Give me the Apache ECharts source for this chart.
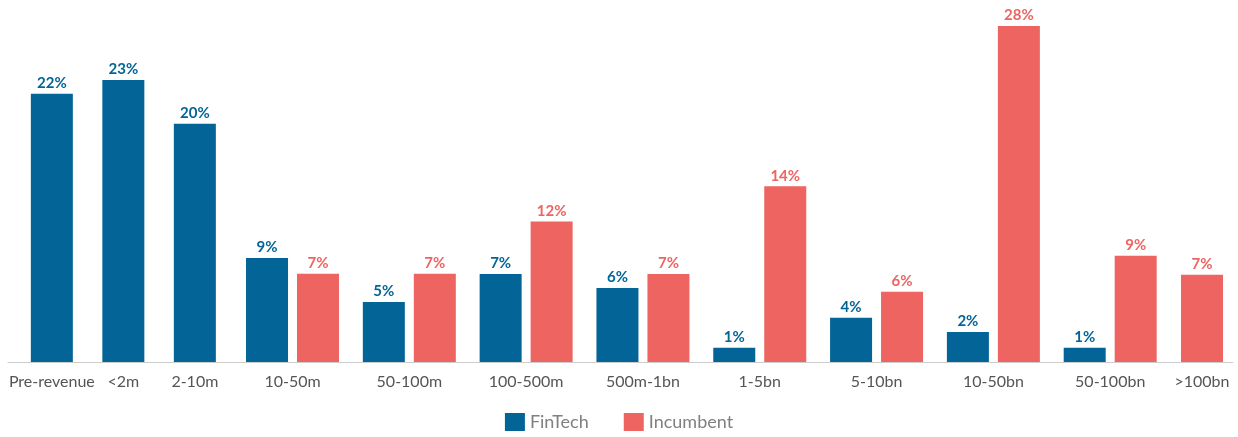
<!DOCTYPE html>
<html>
<head>
<meta charset="utf-8">
<script src="https://cdn.jsdelivr.net/npm/echarts@6/dist/echarts.min.js"></script>
<style>html,body{margin:0;padding:0;background:#fff}#c{width:1238px;height:437px}</style>
</head>
<body>
<div id="c"></div>
<script>
var categories = ['Pre-revenue','<2m','2-10m','10-50m','50-100m','100-500m','500m-1bn','1-5bn','5-10bn','10-50bn','50-100bn','>100bn'];
var fintech   = [22.06, 23.18, 19.59, 8.55, 4.93, 7.23, 6.08, 1.18, 3.64, 2.47, 1.18, null];
var incumbent = [null, null, null, 7.26, 7.26, 11.55, 7.23, 14.45, 5.78, 27.62, 8.74, 7.18];
var seriesNames = ['FinTech','Incumbent'];
var colors = ['#036597','#ED6461'];

var chart = echarts.init(document.getElementById('c'));
var FONT = 'Lato';
var yMax = 28;
var gTop = 21.4, gBottom = 75;

function xAx(gi, data, showLabels){
  return {
    type:'category', gridIndex:gi, data:data,
    axisLine:{show:false}, axisTick:{show:false},
    axisLabel:{show:showLabels, interval:0, color:'#555', fontFamily:FONT, fontSize:16, margin:12}
  };
}
function yAx(gi){
  return {type:'value', gridIndex:gi, min:0, max:yMax, show:false, splitLine:{show:false}};
}
function lbl(color){
  return {show:true, position:'top', distance:3, color:color, fontFamily:FONT, fontWeight:'bold', fontSize:15,
    formatter:function(p){return Math.round(p.value)+'%';}};
}
function bar(name, idx, xi, data, extra){
  var s = {name:name, type:'bar', xAxisIndex:xi, yAxisIndex:xi, data:data, barWidth:42,
    itemStyle:{color:colors[idx]}, label:lbl(colors[idx])};
  for (var k in extra) s[k]=extra[k];
  return s;
}

var c1 = categories.slice(0,3), c2 = categories.slice(3,11), c3 = categories.slice(11);

chart.setOption({
  animation:false,
  textStyle:{fontFamily:FONT},
  legend:{data:seriesNames, left:'center', top:413, padding:0, itemWidth:20, itemHeight:18, itemGap:35,
    icon:'rect', textStyle:{color:'#808080', fontSize:18, fontFamily:FONT}},
  grid:[
    {left:16.1, width:214.5, top:gTop, bottom:gBottom},
    {left:234.1, width:934.5, top:gTop, bottom:gBottom},
    {left:1168.6, width:66.8, top:gTop, bottom:gBottom},
    {left:8, width:1225, top:gTop, bottom:gBottom}
  ],
  xAxis:[
    xAx(0, c1, true), xAx(1, c2, true), xAx(2, c3, true),
    {type:'category', gridIndex:3, data:[''], axisTick:{show:false}, axisLabel:{show:false},
     axisLine:{show:true, lineStyle:{color:'#cccccc', width:1}}}
  ],
  yAxis:[yAx(0), yAx(1), yAx(2), yAx(3)],
  series:[
    bar('FinTech', 0, 0, fintech.slice(0,3), {}),
    bar('FinTech', 0, 1, fintech.slice(3,11), {}),
    bar('Incumbent', 1, 1, incumbent.slice(3,11), {barGap:'21.4%'}),
    bar('Incumbent', 1, 2, incumbent.slice(11), {})
  ]
});
</script>
</body>
</html>
